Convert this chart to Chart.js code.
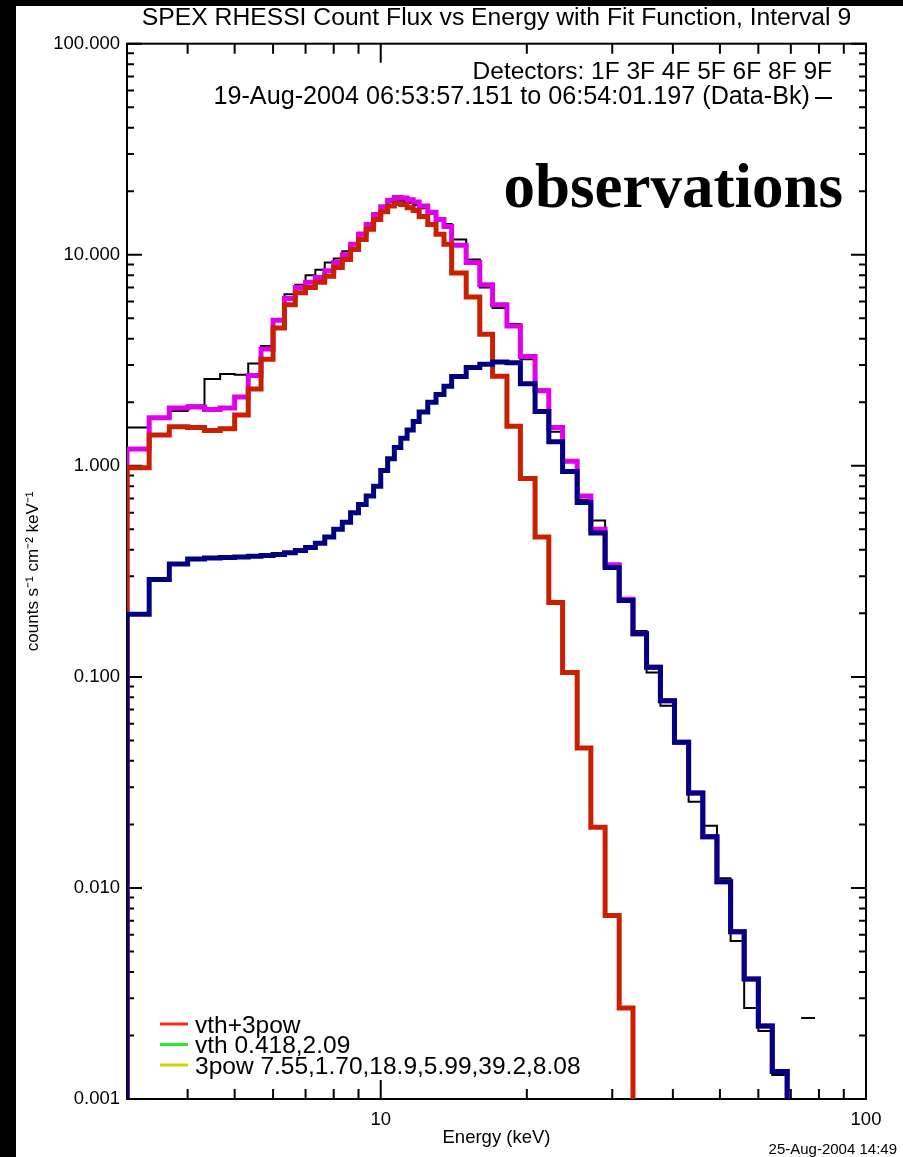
<!DOCTYPE html>
<html>
<head>
<meta charset="utf-8">
<script src="https://cdn.jsdelivr.net/npm/chart.js@4.4.1/dist/chart.umd.min.js"></script>
<style>
  html, body { margin: 0; padding: 0; background: #000; overflow: hidden; }
  #panel { position: absolute; left: 16px; top: 6px; width: 887px; height: 1151px; background: #fff; }
</style>
</head>
<body>
<div id="panel"><canvas id="myChart" width="887" height="1151"></canvas></div>
<script>
// Energy bin edges (keV)
const energyEdges = [3, 3.333, 3.667, 4, 4.333, 4.667, 5, 5.333, 5.667, 6, 6.333, 6.667, 7, 7.333, 7.667,
  8, 8.333, 8.667, 9, 9.333, 9.667, 10, 10.333, 10.667, 11, 11.333, 11.667, 12, 12.5, 13, 13.5, 14,
  15, 16, 17, 18.2, 19.4, 20.8, 22.2, 23.7, 25.4, 27.1, 29, 31, 33.1, 35.3, 37.7, 40.3, 43.1, 46.1,
  49.3, 52.6, 56.1, 60, 64.1, 68.8, 73.5, 78.5, 84, 90, 96.5];

// Observed count flux (Data-Bk), one value per bin
const dataCounts = [1.52, 1.70, 1.82, 1.93, 2.58, 2.72, 2.70, 3.05, 3.7, 4.9, 6.5, 7.2, 8.0, 8.5, 9.2,
  9.6, 10.4, 11.3, 12.7, 14.0, 15.5, 17.0, 17.8, 18.2, 18.0, 17.6, 17.2, 16.6, 15.7, 14.8, 14.0,
  11.8, 9.5, 7.0, 5.6, 4.7, 3.2, 2.3, 1.45, 1.05, 0.69, 0.55, 0.33, 0.235, 0.165, 0.105, 0.073,
  0.049, 0.0256, 0.0197, 0.0111, 0.0056, 0.0027, 0.0021, 0.0013, null, 0.00242];

// Total fit (magenta)
const totalFit = [1.20, 1.69, 1.88, 1.90, 1.85, 1.88, 2.12, 2.68, 3.58, 4.9, 6.2, 7.0, 7.4, 7.8, 8.4,
  9.2, 10.0, 11.2, 12.5, 13.9, 15.5, 16.9, 18.1, 18.7, 18.6, 18.2, 17.8, 17.0, 15.9, 14.7, 13.6,
  11.1, 9.2, 7.2, 5.8, 4.6, 3.3, 2.27, 1.52, 1.05, 0.72, 0.50, 0.34, 0.233, 0.16, 0.111, 0.077,
  0.049, 0.0282, 0.0175, 0.0107, 0.0062, 0.0037, 0.00222, 0.00135, 0.0002];

// Thermal component (red)
const thermalFit = [0.98, 1.40, 1.53, 1.52, 1.47, 1.50, 1.74, 2.31, 3.20, 4.50, 5.80, 6.60, 7.00, 7.40,
  7.90, 8.70, 9.50, 10.6, 11.8, 13.2, 14.7, 16.0, 17.0, 17.5, 17.3, 16.7, 16.2, 15.2, 13.9, 12.5,
  11.2, 8.2, 6.3, 4.2, 2.66, 1.54, 0.87, 0.46, 0.225, 0.105, 0.046, 0.0194, 0.0074, 0.0027, 0.0003];

// Power-law component (navy)
const powerFit = [0.198, 0.289, 0.343, 0.362, 0.366, 0.368, 0.370, 0.373, 0.376, 0.380, 0.387, 0.397,
  0.41, 0.43, 0.46, 0.50, 0.54, 0.60, 0.655, 0.72, 0.80, 0.95, 1.08, 1.22, 1.35, 1.48, 1.62, 1.80,
  2.00, 2.18, 2.38, 2.65, 2.92, 3.03, 3.10, 3.08, 2.45, 1.81, 1.30, 0.94, 0.67, 0.48, 0.33, 0.23,
  0.16, 0.111, 0.077, 0.049, 0.0282, 0.0175, 0.0107, 0.0062, 0.0037, 0.00222, 0.00135, 0.0002];

const xTickLabels = [10, 100];
const yTickLabels = [100, 10, 1, 0.1, 0.01, 0.001];
const legendItems = ['vth+3pow', 'vth 0.418,2.09', '3pow 7.55,1.70,18.9,5.99,39.2,8.08'];
const legendColors = ['#ff2a1a', '#22ee22', '#d4d400'];

const FLOOR = 1e-4;
const FONT = "'Liberation Sans', Arial, sans-serif";
Chart.defaults.font.family = FONT;
Chart.defaults.color = '#000';

// Turns bin values into the corner points of a histogram outline.
function stepPoints(values) {
  const pts = [{x: energyEdges[0], y: FLOOR}];
  values.forEach((v, i) => {
    if (v === null) { pts.push({x: energyEdges[i], y: null}); return; }
    pts.push({x: energyEdges[i], y: v});
    pts.push({x: energyEdges[i + 1], y: v});
  });
  return pts;
}

function isListed(v, list) {
  return list.some(t => Math.abs(Math.log10(v) - Math.log10(t)) < 1e-6);
}

// Frame plus inward pointing ticks on all four sides.
const frameTicks = {
  id: 'frameTicks',
  beforeDatasetsDraw(chart) {
    const {ctx, chartArea: a, scales: {x, y}} = chart;
    ctx.save();
    ctx.strokeStyle = '#000';
    ctx.lineWidth = 2;
    ctx.strokeRect(a.left, a.top, a.right - a.left, a.bottom - a.top);
    ctx.beginPath();
    for (let d = 0; d <= 2; d++) {
      for (let m = 1; m <= 9; m++) {
        const v = m * Math.pow(10, d);
        if (v < 3 || v > 100) continue;
        const px = x.getPixelForValue(v);
        const len = m === 1 ? 19 : 10;
        ctx.moveTo(px, a.bottom); ctx.lineTo(px, a.bottom - len);
        ctx.moveTo(px, a.top); ctx.lineTo(px, a.top + len);
      }
    }
    for (let d = -3; d <= 2; d++) {
      for (let m = 1; m <= 9; m++) {
        const v = m * Math.pow(10, d);
        if (v > 100.0001) continue;
        const py = y.getPixelForValue(v);
        const len = m === 1 ? 15 : 7;
        ctx.moveTo(a.left, py); ctx.lineTo(a.left + len, py);
        ctx.moveTo(a.right, py); ctx.lineTo(a.right - len, py);
      }
    }
    ctx.stroke();
    ctx.restore();
  }
};

// Annotation texts, legend and date stamp.
const annotations = {
  id: 'annotations',
  afterDraw(chart) {
    const {ctx} = chart;
    ctx.save();
    ctx.fillStyle = '#000';
    ctx.textBaseline = 'middle';
    ctx.textAlign = 'right';
    ctx.font = '24.5px ' + FONT;
    ctx.fillText('Detectors: 1F 3F 4F 5F 6F 8F 9F', 816, 66);
    ctx.font = '25.2px ' + FONT;
    ctx.fillText('19-Aug-2004 06:53:57.151 to 06:54:01.197 (Data-Bk)', 794, 91);
    ctx.strokeStyle = '#000';
    ctx.lineWidth = 2;
    ctx.beginPath(); ctx.moveTo(799, 92); ctx.lineTo(816, 92); ctx.stroke();

    ctx.textBaseline = 'alphabetic';
    ctx.font = "bold 63px 'Liberation Serif', 'Times New Roman', serif";
    ctx.fillText('observations', 827, 201);

    ctx.textAlign = 'left';
    ctx.textBaseline = 'middle';
    ctx.font = '24.5px ' + FONT;
    legendItems.forEach((txt, i) => {
      const ly = 1018 + i * 20.5;
      ctx.strokeStyle = legendColors[i];
      ctx.lineWidth = 3;
      ctx.beginPath(); ctx.moveTo(144, ly); ctx.lineTo(172, ly); ctx.stroke();
      ctx.fillText(txt, 179, ly + 2);
    });

    ctx.textAlign = 'right';
    ctx.font = '15px ' + FONT;
    ctx.fillText('25-Aug-2004 14:49', 881, 1144);
    ctx.restore();
  }
};

const ctx = document.getElementById('myChart').getContext('2d');
new Chart(ctx, {
  type: 'line',
  data: {
    datasets: [
      {label: 'Data-Bk', data: stepPoints(dataCounts), borderColor: '#000', borderWidth: 2, order: 3},
      {label: 'vth+3pow', data: stepPoints(totalFit), borderColor: '#e000ea', borderWidth: 5, order: 2},
      {label: 'vth', data: stepPoints(thermalFit), borderColor: '#c82000', borderWidth: 5, order: 1},
      {label: '3pow', data: stepPoints(powerFit), borderColor: '#000080', borderWidth: 5, order: 0}
    ]
  },
  options: {
    responsive: false,
    animation: false,
    datasets: {line: {pointRadius: 0, tension: 0, spanGaps: false, fill: false}},
    layout: {padding: {left: 5, right: 37, top: 0, bottom: 0}},
    plugins: {
      legend: {display: false},
      tooltip: {enabled: false},
      title: {
        display: true,
        fullSize: false,
        text: 'SPEX RHESSI Count Flux vs Energy with Fit Function, Interval 9',
        color: '#000',
        font: {size: 24.7, weight: 'normal', lineHeight: 1.0},
        padding: {top: 0, bottom: 13}
      }
    },
    scales: {
      x: {
        type: 'logarithmic', min: 3, max: 100,
        grid: {display: false, drawTicks: false}, border: {display: false},
        ticks: {
          autoSkip: false, maxRotation: 0, padding: 10, color: '#000', font: {size: 18.5},
          callback: v => isListed(v, xTickLabels) ? String(Math.round(v)) : ''
        },
        title: {display: true, text: 'Energy (keV)', color: '#000', font: {size: 18.5}, padding: {top: 0, bottom: 8}},
        afterFit: s => { s.height = 58; }
      },
      y: {
        type: 'logarithmic', min: 0.001, max: 100,
        grid: {display: false, drawTicks: false}, border: {display: false},
        ticks: {
          autoSkip: false, padding: 7, color: '#000', font: {size: 18.5},
          callback: v => isListed(v, yTickLabels) ? Number(v).toFixed(3) : ''
        },
        title: {display: true, text: 'counts s\u207B\u00B9 cm\u207B\u00B2 keV\u207B\u00B9', color: '#000', font: {size: 17}, padding: {top: 2, bottom: 0}},
        afterFit: s => { s.width = 106; }
      }
    }
  },
  plugins: [frameTicks, annotations]
});
</script>
</body>
</html>
